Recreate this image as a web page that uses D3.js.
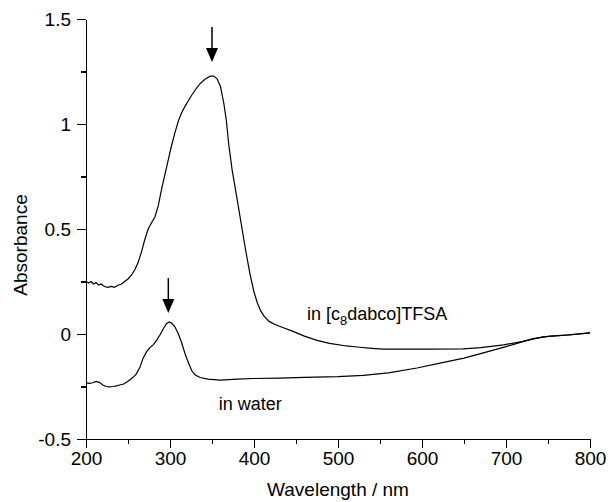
<!DOCTYPE html>
<html>
<head>
<meta charset="utf-8">
<title>Absorbance spectra</title>
<style>
  body { margin: 0; background: #fff; }
  .axis path, .axis line { stroke: #000; stroke-width: 1.3px; shape-rendering: crispEdges; }
  .axis text { font-family: "Liberation Sans", Arial, sans-serif; font-size: 19px; fill: #000; }
</style>
</head>
<body>
<div class="container"></div>
<script src="https://cdn.jsdelivr.net/npm/d3@7/dist/d3.min.js"></script>
<script>

// wavelength (nm), absorbance
var ilWavelength = [200,203,206,209,212,215,218,222,226,230,234,238,242,246,250,254,258,262,266,270,274,278,282,286,290,294,298,302,306,310,314,318,322,326,330,336,342,348,352,356,360,364,367,370,374,380,385,390,395,400,404,408,412,418,425,435,445,460,475,490,510,526,540,554,580,610,649,670,697,720,744,770,800];
var ilAbsorbance = [0.25,0.243,0.25,0.238,0.245,0.233,0.238,0.226,0.222,0.227,0.222,0.232,0.237,0.25,0.262,0.28,0.305,0.34,0.39,0.45,0.5,0.53,0.557,0.61,0.69,0.76,0.83,0.9,0.96,1.015,1.055,1.085,1.112,1.138,1.162,1.193,1.214,1.228,1.228,1.215,1.18,1.1,1.02,0.9,0.78,0.64,0.52,0.4,0.29,0.2,0.148,0.11,0.085,0.06,0.045,0.03,0.015,-0.01,-0.03,-0.045,-0.057,-0.063,-0.068,-0.072,-0.072,-0.072,-0.071,-0.065,-0.052,-0.035,-0.014,-0.006,0.005];

var waterWavelength = [200,204,208,212,216,220,224,228,232,236,240,245,250,255,260,264,268,272,276,280,284,288,292,296,299,302,306,310,314,318,322,326,330,336,345,360,380,400,430,460,500,530,560,594,620,650,673,700,732,752,775,800];
var waterAbsorbance = [-0.233,-0.235,-0.232,-0.226,-0.23,-0.243,-0.25,-0.252,-0.25,-0.247,-0.243,-0.238,-0.225,-0.21,-0.19,-0.16,-0.115,-0.085,-0.065,-0.052,-0.03,-0.005,0.025,0.05,0.057,0.052,0.033,0,-0.043,-0.095,-0.138,-0.175,-0.195,-0.207,-0.215,-0.22,-0.215,-0.212,-0.21,-0.207,-0.203,-0.197,-0.185,-0.162,-0.14,-0.115,-0.09,-0.06,-0.022,-0.01,-0.004,0.005];

var xTicks = [200,300,400,500,600,700,800];
var xMinorTicks = [250,350,450,550,650,750];
var yTicks = [-0.5,0,0.5,1,1.5];
var yMinorTicks = [-0.25,0.25,0.75,1.25];

// peak arrows: [wavelength, top, tip]
var arrows = [[350,1.462,1.295],[298,0.267,0.1]];

var svgWidth = 611, svgHeight = 502;
var margin = {top: 19, right: 21, bottom: 63, left: 86};

var svg = d3.select('.container')
  .append('svg')
  .attr('width', svgWidth)
  .attr('height', svgHeight);

var x = d3.scaleLinear()
  .domain([200, 800])
  .range([margin.left, svgWidth - margin.right]);

var y = d3.scaleLinear()
  .domain([-0.5, 1.5])
  .range([svgHeight - margin.bottom, margin.top]);

var fmt = function(d) { return d === 0 ? '0' : String(d); };

// minor ticks first, then the main axes on top
svg.append('g')
  .attr('class', 'axis')
  .attr('transform', `translate(0,${y(-0.5)})`)
  .call(d3.axisBottom(x).tickValues(xMinorTicks).tickSize(5).tickFormat(''))
  .select('.domain').remove();

svg.append('g')
  .attr('class', 'axis')
  .attr('transform', `translate(${x(200)},0)`)
  .call(d3.axisLeft(y).tickValues(yMinorTicks).tickSize(5).tickFormat(''))
  .select('.domain').remove();

svg.append('g')
  .attr('class', 'axis')
  .attr('transform', `translate(0,${y(-0.5)})`)
  .call(d3.axisBottom(x).tickValues(xTicks).tickSize(9).tickSizeOuter(0).tickPadding(4));

svg.append('g')
  .attr('class', 'axis')
  .attr('transform', `translate(${x(200)},0)`)
  .call(d3.axisLeft(y).tickValues(yTicks).tickSize(9).tickSizeOuter(0).tickPadding(6).tickFormat(fmt));

// axis titles
svg.append('text')
  .attr('x', (x(200) + x(800)) / 2)
  .attr('y', 496)
  .attr('text-anchor', 'middle')
  .attr('font-family', '"Liberation Sans", Arial, sans-serif')
  .attr('font-size', 19)
  .text('Wavelength / nm');

svg.append('text')
  .attr('transform', 'translate(27,245) rotate(-90)')
  .attr('text-anchor', 'middle')
  .attr('font-family', '"Liberation Sans", Arial, sans-serif')
  .attr('font-size', 19)
  .text('Absorbance');

var line = d3.line()
  .x(function(d) { return x(d[0]); })
  .y(function(d) { return y(d[1]); });

var ilData = ilWavelength.map(function(w, i) { return [w, ilAbsorbance[i]]; });
var waterData = waterWavelength.map(function(w, i) { return [w, waterAbsorbance[i]]; });

svg.selectAll('.spectrum')
  .data([ilData, waterData])
  .enter().append('path')
  .attr('class', 'spectrum')
  .attr('d', line)
  .attr('fill', 'none')
  .attr('stroke', '#000')
  .attr('stroke-width', 1.2);

// arrows pointing at the maxima
var arrowG = svg.selectAll('.arrow')
  .data(arrows)
  .enter().append('g')
  .attr('class', 'arrow');

arrowG.append('line')
  .attr('x1', function(d) { return x(d[0]); })
  .attr('x2', function(d) { return x(d[0]); })
  .attr('y1', function(d) { return y(d[1]); })
  .attr('y2', function(d) { return y(d[2]) - 10; })
  .attr('stroke', '#000')
  .attr('stroke-width', 1.5);

arrowG.append('path')
  .attr('d', function(d) {
    var cx = x(d[0]), ty = y(d[2]);
    return `M${cx},${ty} L${cx - 6},${ty - 14} L${cx + 6},${ty - 14} Z`;
  })
  .attr('fill', '#000');

// curve labels
var ilLabel = svg.append('text')
  .attr('x', x(463))
  .attr('y', y(0.067))
  .attr('font-family', '"Liberation Sans", Arial, sans-serif')
  .attr('font-size', 18);
ilLabel.append('tspan').text('in [c');
ilLabel.append('tspan').attr('font-size', 13).attr('dy', 5).text('8');
ilLabel.append('tspan').attr('dy', -5).text('dabco]TFSA');

svg.append('text')
  .attr('x', x(358))
  .attr('y', y(-0.362))
  .attr('font-family', '"Liberation Sans", Arial, sans-serif')
  .attr('font-size', 18)
  .text('in water');

</script>
</body>
</html>
